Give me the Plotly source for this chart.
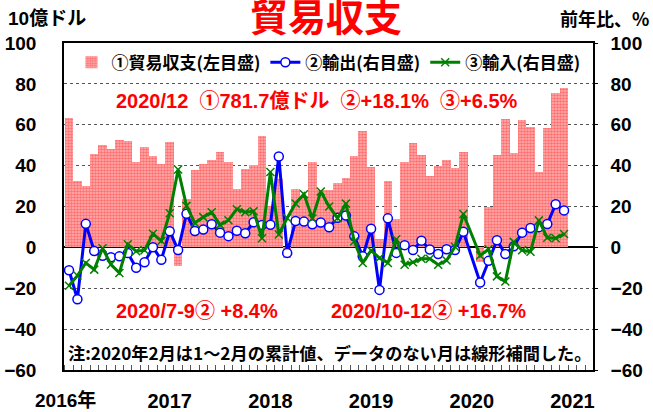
import plotly.graph_objects as go

# Monthly data Jan 2016 - Dec 2020
months = [f"{y}-{m:02d}" for y in range(2016, 2021) for m in range(1, 13)]

# Trade balance, 10億ドル (left axis); Jan 2020 has no data (Feb = Jan-Feb cumulative)
balance = [
    63.3, 32.6, 29.9, 45.6, 50.0, 48.1, 52.3, 52.1, 42.0, 49.1, 44.6, 40.8,
    51.4, -9.2, 23.9, 38.1, 40.8, 42.8, 46.7, 42.0, 28.5, 38.2, 40.2, 54.7,
    20.3, 33.7, -5.0, 28.4, 24.9, 41.6, 28.1, 27.9, 31.7, 34.0, 44.7, 57.1,
    39.2, 4.1, 32.7, 13.8, 41.7, 51.0, 45.1, 34.8, 39.7, 42.8, 38.7, 46.8,
    None, -7.1, 19.9, 45.3, 62.9, 46.4, 62.3, 58.9, 37.0, 58.4, 75.4, 78.2,
]

# Exports, y/y % (right axis)
exports = [
    -11.2, -25.4, 11.5, -1.8, -4.1, -4.8, -4.4, -2.8, -10.0, -7.3, 0.1, -6.1,
    7.9, -1.3, 16.4, 8.0, 8.7, 11.3, 7.2, 5.5, 8.1, 6.9, 12.3, 10.9,
    11.1, 44.5, -2.7, 12.9, 12.6, 11.3, 12.2, 9.8, 14.5, 15.6, 5.4, -4.4,
    9.1, -20.8, 14.2, -2.7, 1.1, -1.3, 3.3, -1.0, -3.2, -0.9, -1.3, 7.6,
    None, -17.2, -6.6, 3.5, -3.3, 0.5, 7.2, 9.5, 9.9, 11.4, 21.1, 18.1,
]

# Imports, y/y % (right axis)
imports = [
    -18.8, -13.8, -7.6, -10.9, -0.4, -8.4, -12.5, 1.5, -1.9, -1.4, 6.7, 3.1,
    16.7, 38.1, 20.3, 11.9, 14.8, 17.2, 11.0, 13.3, 18.7, 17.2, 17.7, 4.5,
    36.9, 6.3, 14.4, 21.5, 26.0, 14.1, 27.3, 20.0, 14.3, 21.4, 3.0, -7.6,
    -1.5, -5.2, -7.6, 4.0, -8.5, -7.3, -5.6, -5.6, -8.5, -6.4, 0.3, 16.3,
    None, -4.0, -0.9, -14.2, -16.7, 2.7, -1.4, -2.1, 13.2, 4.7, 4.5, 6.5,
]

year_ticks = [12, 24, 36, 48, 60]
year_labels = ["2017", "2018", "2019", "2020", "2021"]

x = list(range(len(months)))

NUM = "Liberation Sans, Noto Sans CJK JP, sans-serif"
JP = "Noto Sans CJK JP, sans-serif"

fig = go.Figure()
fig.add_trace(go.Bar(
    x=x, y=balance, name="①貿易収支(左目盛)", width=1.02,
    marker=dict(color="#ff9a9a", line=dict(width=0),
                pattern=dict(shape=".", fgcolor="#ff2a2a", bgcolor="#ffb4b4",
                             size=3, solidity=0.6)),
    yaxis="y",
))
fig.add_trace(go.Scatter(
    x=x, y=exports, name="②輸出(右目盛)", mode="lines+markers", connectgaps=True,
    line=dict(color="#0000ff", width=3),
    marker=dict(symbol="circle", size=9, color="white", line=dict(color="#0000ff", width=1.5)),
    yaxis="y2",
))
fig.add_trace(go.Scatter(
    x=x, y=imports, name="③輸入(右目盛)", mode="lines+markers", connectgaps=True,
    line=dict(color="#008000", width=3),
    marker=dict(symbol="x-thin", size=8, color="#008000", line=dict(color="#008000", width=1.5)),
    yaxis="y2",
))

annotations = [
    dict(text="貿易収支", x=0.5, y=1.0, xref="paper", yref="paper", xanchor="center", yanchor="middle",
         xshift=-3, yshift=29, showarrow=False, font=dict(family=JP, size=38, color="#ff0000", weight="bold")),
    dict(text="10億ドル", x=0, y=1, xref="paper", yref="paper", xanchor="left", yanchor="middle",
         xshift=-58, yshift=25, showarrow=False, font=dict(family=NUM, size=19, color="black", weight="bold")),
    dict(text="前年比、%", x=1, y=1, xref="paper", yref="paper", xanchor="right", yanchor="middle",
         xshift=58, yshift=25, showarrow=False, font=dict(family=JP, size=18, color="black", weight="bold")),
    dict(text="2020/12  ①781.7億ドル  ②+18.1%  ③+6.5%", x=0, y=1, xref="paper", yref="paper",
         xanchor="left", yanchor="middle", xshift=50, yshift=-58, showarrow=False,
         font=dict(family=NUM, size=20, color="#ff0000", weight="bold")),
    dict(text="2020/7-9② +8.4%", x=0, y=0, xref="paper", yref="paper",
         xanchor="left", yanchor="middle", xshift=50, yshift=59, showarrow=False,
         font=dict(family=NUM, size=20, color="#ff0000", weight="bold")),
    dict(text="2020/10-12② +16.7%", x=0, y=0, xref="paper", yref="paper",
         xanchor="left", yanchor="middle", xshift=265, yshift=59, showarrow=False,
         font=dict(family=NUM, size=20, color="#ff0000", weight="bold")),
    dict(text="注:2020年2月は1～2月の累計値、データのない月は線形補間した。", x=0.5, y=0,
         xref="paper", yref="paper", xanchor="center", yanchor="middle", xshift=1, yshift=18,
         showarrow=False, font=dict(family=JP, size=17.2, color="black", weight="bold")),
    dict(text="2016年", x=0, y=0, xref="paper", yref="paper", xanchor="center", yanchor="middle",
         xshift=1, yshift=-30, showarrow=False, font=dict(family=NUM, size=19, color="black", weight="bold")),
]

grid = dict(showgrid=True, gridcolor="#555555", griddash="dot", gridwidth=1)

fig.update_layout(
    width=653, height=412,
    margin=dict(l=64, r=60, t=43, b=42, autoexpand=False),
    paper_bgcolor="white", plot_bgcolor="white",
    bargap=0, showlegend=True,
    legend=dict(orientation="h", x=0.5, xanchor="center", y=0.94, yanchor="middle",
                font=dict(family=JP, size=17, color="black", weight="bold"),
                bgcolor="rgba(0,0,0,0)", tracegroupgap=0),
    xaxis=dict(range=[-0.6, 62.45], tickmode="array", tickvals=year_ticks, ticktext=year_labels,
               ticks="", showgrid=False, zeroline=False, showline=True, linecolor="black",
               linewidth=1.5, mirror=True, ticklabelstandoff=12, automargin=False,
               tickfont=dict(family=NUM, size=20, color="black", weight="bold"),
               minor=dict(tickmode="linear", tick0=-0.5, dtick=1, ticks="inside", ticklen=5,
                          tickcolor="#555555", showgrid=False)),
    yaxis=dict(range=[-60, 100], dtick=20, side="left", showline=True, linecolor="black",
               linewidth=1.5, mirror=False, zeroline=True, zerolinecolor="black", zerolinewidth=1.5,
               ticks="", ticklabelstandoff=22, automargin=False,
               tickfont=dict(family=NUM, size=19, color="black", weight="bold"), **grid),
    yaxis2=dict(range=[-60, 100], dtick=20, side="right", overlaying="y", showline=True,
                linecolor="black", linewidth=1.5, showgrid=False, zeroline=False,
                ticks="outside", ticklen=3, tickcolor="black", ticklabelstandoff=9, automargin=False,
                tickfont=dict(family=NUM, size=19, color="black", weight="bold")),
    annotations=annotations,
)

fig.write_html("out.html", config={"displayModeBar": False},
               post_script="document.body.style.margin='0';")
